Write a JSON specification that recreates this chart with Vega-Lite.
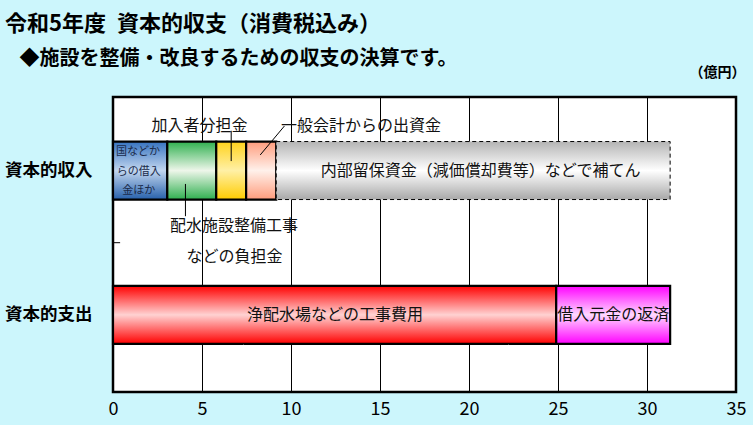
{
  "$schema": "https://vega.github.io/schema/vega-lite/v6.json",
  "width": 623,
  "height": 295,
  "autosize": {"type": "none"},
  "padding": {"left": 113, "top": 97, "right": 17, "bottom": 33},
  "background": "#CCF6FC",
  "title": {
    "text": "令和5年度\u2002資本的収支（消費税込み）",
    "anchor": "start",
    "frame": "group",
    "dx": -108,
    "offset": 12,
    "fontSize": 22,
    "fontWeight": "bold",
    "color": "black"
  },
  "datasets": {
    "bars": [
      {"pos": 3, "key": "blue", "start": 0, "end": 3.05},
      {"pos": 3, "key": "green", "start": 3.05, "end": 5.8},
      {"pos": 3, "key": "yellow", "start": 5.8, "end": 7.48},
      {"pos": 3, "key": "salmon", "start": 7.48, "end": 9.17},
      {"pos": 3, "key": "gray", "start": 9.17, "end": 31.3},
      {"pos": 1, "key": "red", "start": 0, "end": 24.9},
      {"pos": 1, "key": "magenta", "start": 24.9, "end": 31.3}
    ],
    "labels": [
      {"x": 4.86, "y": 3.617, "text": "加入者分担金"},
      {"x": 13.93, "y": 3.617, "text": "一般会計からの出資金"},
      {"x": 6.8, "y": 2.234, "text": "配水施設整備工事"},
      {"x": 6.83, "y": 1.808, "text": "などの負担金"},
      {"x": 20.65, "y": 3.0, "text": "内部留保資金（減価償却費等）などで補てん"},
      {"x": 12.47, "y": 1.0, "text": "浄配水場などの工事費用"},
      {"x": 28.1, "y": 1.0, "text": "借入元金の返済"}
    ],
    "small": [
      {"x": 1.4, "y": 3.252, "text": "国などか"},
      {"x": 1.45, "y": 2.984, "text": "らの借入"},
      {"x": 1.45, "y": 2.713, "text": "金ほか"}
    ],
    "leaders": [
      {"x": 6.64, "y": 3.551, "x2": 6.64, "y2": 3.131},
      {"x": 9.63, "y": 3.617, "x2": 8.27, "y2": 3.216},
      {"x": 4.07, "y": 2.814, "x2": 4.07, "y2": 2.367}
    ],
    "tick": [
      {"x": 0, "x2": 0.4, "y": 2}
    ]
  },
  "layer": [
    {
      "data": {"name": "bars"},
      "mark": {"type": "bar", "height": 58, "stroke": "black"},
      "encoding": {
        "x": {
          "field": "start",
          "type": "quantitative",
          "scale": {"domain": [0, 35], "nice": false},
          "axis": {
            "values": [0, 5, 10, 15, 20, 25, 30, 35],
            "title": null,
            "domain": false,
            "ticks": false,
            "grid": true,
            "gridColor": "black",
            "gridOpacity": 1,
            "gridWidth": 1,
            "labelFontSize": 18,
            "labelColor": "black",
            "labelPadding": 8,
            "labelFlush": false
          }
        },
        "x2": {"field": "end"},
        "y": {
          "field": "pos",
          "type": "quantitative",
          "scale": {"domain": [0, 3.95], "nice": false, "zero": false},
          "axis": {
            "orient": "left",
            "values": [1, 3],
            "labelExpr": "datum.value > 2 ? '資本的収入' : '資本的支出'",
            "title": null,
            "domain": false,
            "ticks": false,
            "grid": false,
            "labelOverlap": false,
            "labelBound": false,
            "labelFlush": false,
            "labelFontSize": 17.5,
            "labelFontWeight": "bold",
            "labelColor": "black",
            "labelPadding": 21
          }
        },
        "fill": {
          "condition": [
            {"test": "datum.key == 'blue'", "value": {"gradient": "linear", "x1": 0, "y1": 0, "x2": 0, "y2": 1, "stops": [{"offset": 0, "color": "#3673C0"}, {"offset": 0.5, "color": "#C2D6EF"}, {"offset": 1, "color": "#2761AB"}]}},
            {"test": "datum.key == 'green'", "value": {"gradient": "linear", "x1": 0, "y1": 0, "x2": 0, "y2": 1, "stops": [{"offset": 0, "color": "#2FB04F"}, {"offset": 0.5, "color": "#EEF6EA"}, {"offset": 1, "color": "#2FB04F"}]}},
            {"test": "datum.key == 'yellow'", "value": {"gradient": "linear", "x1": 0, "y1": 0, "x2": 0, "y2": 1, "stops": [{"offset": 0, "color": "#FFD21C"}, {"offset": 0.5, "color": "#FFF0A6"}, {"offset": 1, "color": "#FFCC00"}]}},
            {"test": "datum.key == 'salmon'", "value": {"gradient": "linear", "x1": 0, "y1": 0, "x2": 0, "y2": 1, "stops": [{"offset": 0, "color": "#FF9C7C"}, {"offset": 0.5, "color": "#FFF1EB"}, {"offset": 1, "color": "#FF9C7C"}]}},
            {"test": "datum.key == 'gray'", "value": {"gradient": "linear", "x1": 0, "y1": 0, "x2": 0, "y2": 1, "stops": [{"offset": 0, "color": "#B4B4B4"}, {"offset": 0.5, "color": "#FFFFFF"}, {"offset": 1, "color": "#A8A8A8"}]}},
            {"test": "datum.key == 'red'", "value": {"gradient": "linear", "x1": 0, "y1": 0, "x2": 0, "y2": 1, "stops": [{"offset": 0, "color": "#FF0000"}, {"offset": 0.5, "color": "#FFD2D2"}, {"offset": 1, "color": "#FF0000"}]}}
          ],
          "value": {"gradient": "linear", "x1": 0, "y1": 0, "x2": 0, "y2": 1, "stops": [{"offset": 0, "color": "#FF00FF"}, {"offset": 0.5, "color": "#FFD8FF"}, {"offset": 1, "color": "#FF00FF"}]}
        },
        "strokeWidth": {"condition": {"test": "datum.key == 'gray'", "value": 1}, "value": 2.2},
        "strokeDash": {"condition": {"test": "datum.key == 'gray'", "value": [4, 3]}, "value": [1, 0]}
      }
    },
    {
      "data": {"name": "tick"},
      "mark": {"type": "rule", "color": "black", "strokeWidth": 1},
      "encoding": {
        "x": {
          "field": "x",
          "type": "quantitative",
          "axis": {
            "orient": "top",
            "title": "（億円）",
            "labels": false,
            "ticks": false,
            "domain": false,
            "grid": false,
            "titleAnchor": "end",
            "titleAlign": "right",
            "titleX": 632,
            "titleY": -25,
            "titleBaseline": "middle",
            "titleFontSize": 14,
            "titleFontWeight": "bold",
            "titleColor": "black"
          }
        },
        "x2": {"field": "x2"},
        "y": {"field": "y", "type": "quantitative"}
      }
    },
    {
      "data": {"name": "leaders"},
      "mark": {"type": "rule", "color": "black", "strokeWidth": 1},
      "encoding": {
        "x": {
          "field": "x",
          "type": "quantitative",
          "axis": {
            "orient": "top",
            "title": "◆施設を整備・改良するための収支の決算です。",
            "labels": false,
            "ticks": false,
            "domain": false,
            "grid": false,
            "titleAnchor": "start",
            "titleAlign": "left",
            "titleX": -94,
            "titleY": -39,
            "titleBaseline": "middle",
            "titleFontSize": 20,
            "titleFontWeight": "bold",
            "titleColor": "black"
          }
        },
        "x2": {"field": "x2"},
        "y": {"field": "y", "type": "quantitative"},
        "y2": {"field": "y2"}
      }
    },
    {
      "data": {"name": "labels"},
      "mark": {"type": "text", "fontSize": 16, "color": "#111111", "align": "center", "baseline": "middle"},
      "encoding": {
        "x": {"field": "x", "type": "quantitative", "axis": null},
        "y": {"field": "y", "type": "quantitative"},
        "text": {"field": "text"}
      }
    },
    {
      "data": {"name": "small"},
      "mark": {"type": "text", "fontSize": 11, "color": "#1A2A4A", "align": "center", "baseline": "middle"},
      "encoding": {
        "x": {"field": "x", "type": "quantitative", "axis": null},
        "y": {"field": "y", "type": "quantitative"},
        "text": {"field": "text"}
      }
    }
  ],
  "resolve": {"axis": {"x": "independent"}},
  "config": {
    "font": "Noto Sans CJK JP",
    "view": {"fill": "white", "stroke": "black", "strokeWidth": 2.5}
  }
}
